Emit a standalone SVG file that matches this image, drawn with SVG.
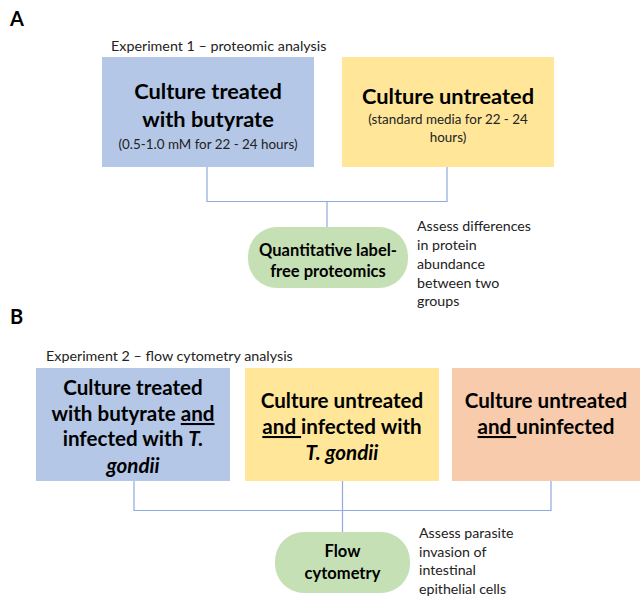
<svg xmlns="http://www.w3.org/2000/svg" width="640" height="597" viewBox="0 0 640 597">
<style>
.lbl{font-family:Lato,"Open Sans",sans-serif;font-weight:bold;font-size:20px;fill:#000}
.cap{font-family:Lato,"Open Sans",sans-serif;font-size:14.3px;fill:#222}
.big{font-family:Lato,"Open Sans",sans-serif;font-weight:bold;font-size:20.6px;fill:#000;text-anchor:middle}
.bigA{font-size:21.8px}
.sub{font-family:Lato,"Open Sans",sans-serif;font-size:13.4px;fill:#222;text-anchor:middle}
.pill{font-family:Lato,"Open Sans",sans-serif;font-weight:bold;font-size:16.5px;fill:#000;text-anchor:middle}
.note{font-family:Lato,"Open Sans",sans-serif;font-size:14.2px;fill:#222}
.conn{fill:none;stroke:#8FAADC;stroke-width:1.2}
.u{text-decoration:underline}
.i{font-style:italic}
</style>
<rect width="640" height="597" fill="#fff"/>
<text class="lbl" x="10" y="26">A</text>
<text class="lbl" x="10" y="324">B</text>
<text class="cap" x="111" y="51">Experiment 1 – proteomic analysis</text>
<text class="cap" x="46" y="361">Experiment 2 – flow cytometry analysis</text>

<g id="connectors">
<path class="conn" d="M207 167 V201.5 H447 V167 M327 201.5 V227"/>
<path class="conn" d="M134 481 V510.5 H551 V481 M342.5 481 V532"/>
</g>

<g id="a-butyrate">
<rect x="102" y="57" width="212" height="110" fill="#B4C7E7"/>
<text class="big bigA" x="208" y="99">Culture treated</text>
<text class="big bigA" x="208" y="127">with butyrate</text>
<text class="sub" x="208" y="149">(0.5-1.0 mM for 22 - 24 hours)</text>
</g>
<g id="a-untreated">
<rect x="342" y="57" width="212" height="110" fill="#FFE699"/>
<text class="big bigA" x="448" y="104">Culture untreated</text>
<text class="sub" x="448" y="124">(standard media for 22 - 24</text>
<text class="sub" x="448" y="142">hours)</text>
</g>
<g id="a-proteomics">
<rect x="248" y="227" width="160" height="61" rx="29" fill="#C5E0B4"/>
<text class="pill" x="328" y="256">Quantitative label-</text>
<text class="pill" x="328" y="277">free proteomics</text>
</g>
<g id="a-note">
<text class="note" x="417" y="231">Assess differences</text>
<text class="note" x="417" y="250">in protein</text>
<text class="note" x="417" y="269">abundance</text>
<text class="note" x="417" y="288">between two</text>
<text class="note" x="417" y="306">groups</text>
</g>

<g id="b-butyrate">
<rect x="36" y="368" width="194" height="113" fill="#B4C7E7"/>
<text class="big" x="133" y="395">Culture treated</text>
<text class="big" x="133" y="421">with butyrate <tspan class="u">and</tspan></text>
<text class="big" x="133" y="446">infected with <tspan class="i">T.</tspan></text>
<text class="big i" x="133" y="473">gondii</text>
</g>
<g id="b-untreated-infected">
<rect x="245" y="368" width="194" height="113" fill="#FFE699"/>
<text class="big" x="342" y="408">Culture untreated</text>
<text class="big" x="342" y="434"><tspan class="u">and </tspan>infected with</text>
<text class="big i" x="342" y="460">T. gondii</text>
</g>
<g id="b-untreated-uninfected">
<rect x="452" y="368" width="190" height="113" fill="#F8CBAD"/>
<text class="big" x="546" y="408">Culture untreated</text>
<text class="big" x="546" y="434"><tspan class="u">and </tspan>uninfected</text>
</g>
<g id="b-flow">
<rect x="275" y="532" width="135" height="61" rx="29" fill="#C5E0B4"/>
<text class="pill" x="342.5" y="557">Flow</text>
<text class="pill" x="342.5" y="579">cytometry</text>
</g>
<g id="b-note">
<text class="note" x="419" y="538">Assess parasite</text>
<text class="note" x="419" y="557">invasion of</text>
<text class="note" x="419" y="575">intestinal</text>
<text class="note" x="419" y="594">epithelial cells</text>
</g>
</svg>
